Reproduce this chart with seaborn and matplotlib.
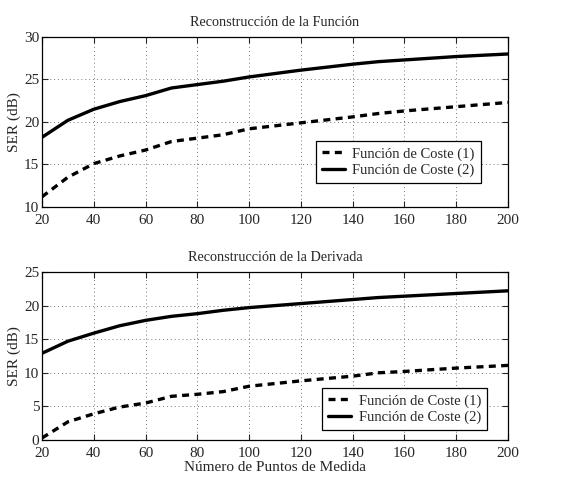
import matplotlib
matplotlib.use("Agg")
import matplotlib.pyplot as plt
import seaborn as sns
import pandas as pd

x_points = [20, 30, 40, 50, 60, 70, 80, 90, 100, 120, 140, 150, 160, 180, 200]
func_coste1 = [11.2, 13.5, 15.1, 16.0, 16.7, 17.7, 18.1, 18.5, 19.2, 19.9, 20.6, 21.0, 21.3, 21.8, 22.3]
func_coste2 = [18.2, 20.2, 21.5, 22.4, 23.1, 24.0, 24.4, 24.8, 25.3, 26.1, 26.8, 27.1, 27.3, 27.7, 28.0]
deriv_coste1 = [0.3, 2.7, 3.9, 4.9, 5.5, 6.5, 6.8, 7.2, 8.0, 8.8, 9.5, 10.0, 10.2, 10.7, 11.1]
deriv_coste2 = [12.9, 14.7, 15.9, 17.0, 17.8, 18.4, 18.8, 19.3, 19.7, 20.3, 20.9, 21.2, 21.4, 21.8, 22.2]

labels = ["Función de Coste (1)", "Función de Coste (2)"]
titles = ["Reconstrucción de la Función", "Reconstrucción de la Derivada"]
x_ticks = [20, 40, 60, 80, 100, 120, 140, 160, 180, 200]

sns.set_theme(style="white")
plt.rcParams['font.family'] = ['Liberation Serif', 'DejaVu Serif']

fig = plt.figure(figsize=(5.73, 4.78), dpi=100)
ax1 = fig.add_axes([0.0733, 0.567, 0.8133, 0.3556])
ax2 = fig.add_axes([0.0733, 0.0795, 0.8133, 0.3515])

def make_df(c1, c2):
    return pd.DataFrame({
        "x": x_points * 2,
        "y": c1 + c2,
        "serie": [labels[0]] * len(x_points) + [labels[1]] * len(x_points),
    })

configs = [
    (ax1, make_df(func_coste1, func_coste2), titles[0], (10, 30), [10, 15, 20, 25, 30], (0.588, 0.141)),
    (ax2, make_df(deriv_coste1, deriv_coste2), titles[1], (0, 25), [0, 5, 10, 15, 20, 25], (0.601, 0.06)),
]

for ax, df, title, ylim, yticks, legpos in configs:
    sns.lineplot(data=df, x="x", y="y", hue="serie", style="serie",
                 palette=["black", "black"], dashes=[(2.1, 1.6), ""],
                 linewidth=2.4, ax=ax, legend=False)
    ax.set_xlim(20, 200)
    ax.set_ylim(*ylim)
    ax.set_xticks(x_ticks)
    ax.set_yticks(yticks)
    ax.grid(True, linestyle=(0, (1, 3)), color="#777777", linewidth=0.7)
    ax.tick_params(direction="in", length=4, labelsize=11, width=0.8,
                   top=True, right=True, bottom=True, left=True)
    ax.tick_params(axis="x", pad=5)
    ax.tick_params(axis="y", pad=2)
    for s in ax.spines.values():
        s.set_color("black")
        s.set_linewidth(0.9)
    ax.set_title(title, fontsize=10.3, pad=8)
    ax.set_ylabel("SER (dB)", fontsize=11, labelpad=2)
    ax.set_xlabel("")
    lines = ax.get_lines()[:2]
    leg = ax.legend(lines, labels, loc="lower left", bbox_to_anchor=legpos,
                    fontsize=10.5, frameon=True, fancybox=False, edgecolor="black",
                    framealpha=1, borderpad=0.4, handlelength=1.6, labelspacing=0.2,
                    handletextpad=0.5, borderaxespad=0)
    leg.get_frame().set_linewidth(0.9)

ax2.set_xlabel("Número de Puntos de Medida", fontsize=11, labelpad=1)

fig.savefig("out.png", dpi=100)
